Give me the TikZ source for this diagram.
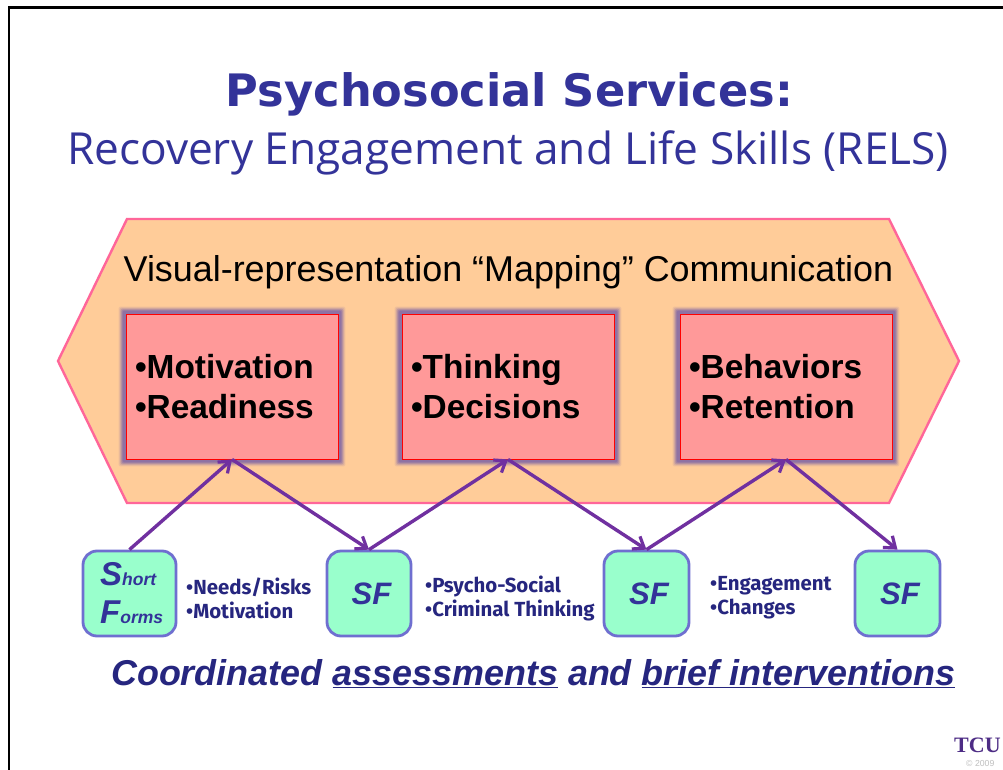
\documentclass[tikz,border=0pt]{standalone}
\usepackage{fontspec}
\setmainfont{Liberation Sans}
\newfontfamily\titlefont{DejaVu Sans}
\newfontfamily\subfont{Open Sans}
\newfontfamily\comicfont{Fira Sans}
\newfontfamily\logofont{Liberation Serif}
\definecolor{titleblue}{HTML}{333399}
\definecolor{darkblue}{HTML}{26267F}
\definecolor{hexfill}{HTML}{FFCC99}
\definecolor{hexline}{HTML}{FF6699}
\definecolor{boxfill}{HTML}{FF9999}
\definecolor{glow}{HTML}{6A55A8}
\definecolor{sffill}{HTML}{99FFCC}
\definecolor{sfline}{HTML}{6F6FD0}
\definecolor{arrowc}{HTML}{7030A0}
\definecolor{logoc}{HTML}{4D2C85}
\usetikzlibrary{arrows.meta}
\tikzset{
  x=1pt,y=-1pt,
  redbox/.style={draw=red,line width=0.8pt,fill=boxfill,minimum width=212pt,minimum height=145pt,
    inner sep=0pt,text=black,font=\fontsize{33.4}{40}\selectfont\bfseries,align=left},
  sfbox/.style={draw=sfline,line width=2.8pt,fill=sffill,rounded corners=14pt,inner sep=0pt,
    text=titleblue,font=\fontsize{31}{35}\selectfont\bfseries\itshape,align=left},
  sidelabel/.style={anchor=west,inner sep=0pt,text=darkblue,align=left,
    font=\comicfont\fontsize{20.4}{24}\selectfont\bfseries},
  link/.style={draw=arrowc,line width=3.4pt,-{Straight Barb[length=10pt,width=15pt,line width=3.2pt]}},
}
\newcommand{\glowaround}[1]{%
  \foreach \g/\o in {7/.1,6/.15,5/.25,4/.3,3/.35}{
    \fill[glow,opacity=\o,rounded corners=1.5pt] ([xshift=-\g pt,yshift=\g pt]#1.north west) rectangle ([xshift=\g pt,yshift=-\g pt]#1.south east);
  }}
\begin{document}
\begin{tikzpicture}
\useasboundingbox (0,0) rectangle (1003,770);
\fill[white] (0,0) rectangle (1003,770);
\draw[black,line width=2.6pt] (9,770) -- (9,7.5) -- (1003,7.5);

\node[inner sep=0pt,text=titleblue,font=\titlefont\fontsize{44.7}{50}\selectfont\bfseries] (title) at (509.5,94) {Psychosocial Services:};
\node[inner sep=0pt,text=titleblue,font=\subfont\fontsize{44.2}{50}\selectfont] (subtitle) at (508,153) {Recovery Engagement and Life Skills (RELS)};

\draw[hexline,line width=2.4pt,fill=hexfill] (127,219) -- (889,219) -- (959,361) -- (889,503) -- (127,503) -- (58,361) -- cycle;
\node[inner sep=0pt,text=black,font=\fontsize{35.9}{40}\selectfont] (maptext) at (508.5,272) {Visual-representation “Mapping” Communication};

\path (232,386.5) node[redbox,draw=none,fill=none] (ghostA) {};
\path (508,386.5) node[redbox,draw=none,fill=none] (ghostB) {};
\path (786,386.5) node[redbox,draw=none,fill=none] (ghostC) {};
\glowaround{ghostA}
\glowaround{ghostB}
\glowaround{ghostC}
\node[redbox,text width=194pt] (boxA) at (232,386.5) {•Motivation\\[-0.5pt]•Readiness};
\node[redbox,text width=194pt] (boxB) at (508,386.5) {•Thinking\\[-0.5pt]•Decisions};
\node[redbox,text width=194pt] (boxC) at (786,386.5) {•Behaviors\\[-0.5pt]•Retention};

\node[sfbox,minimum width=93pt,minimum height=85pt] (sfA) at (129.5,593.5) {};
\node[sfbox,minimum width=84pt,minimum height=85pt] (sfB) at (369,593.5) {\hspace*{5pt}SF};
\node[sfbox,minimum width=85pt,minimum height=85pt] (sfC) at (646.5,593.5) {\hspace*{5pt}SF};
\node[sfbox,minimum width=85pt,minimum height=85pt] (sfD) at (897.5,593.5) {\hspace*{5pt}SF};
\node[inner sep=0pt,anchor=west,text=titleblue,font=\fontsize{33}{33}\selectfont\bfseries\itshape] (sfS) at (100,574) {S{\fontsize{17.5}{19}\selectfont hort}};
\node[inner sep=0pt,anchor=west,text=titleblue,font=\fontsize{33}{33}\selectfont\bfseries\itshape] (sfF) at (100,612) {F{\fontsize{17.5}{19}\selectfont orms}};

\draw[link] (sfA.north) -- (boxA.south);
\draw[link] (boxA.south) -- (sfB.north);
\draw[link] (sfB.north) -- (boxB.south);
\draw[link] (boxB.south) -- (sfC.north);
\draw[link] (sfC.north) -- (boxC.south);
\draw[link] (boxC.south) -- (sfD.north);

\node[sidelabel] (labA) at (186,598) {•Needs/Risks\\•Motivation};
\node[sidelabel] (labB) at (425,598) {•Psycho-Social\\•Criminal Thinking};
\node[sidelabel] (labC) at (710,598) {•Engagement\\•Changes};

\node[inner sep=0pt,anchor=west,text=darkblue,font=\fontsize{35.9}{40}\selectfont\bfseries\itshape] (coord) at (111,674)
  {Coordinated \underline{assessments} and \underline{brief interventions}};

\node[inner sep=0pt,anchor=west,text=logoc,font=\logofont\fontsize{22}{22}\selectfont\bfseries] (logo) at (954,745) {TCU};
\node[inner sep=0pt,anchor=west,text=black!25,font=\fontsize{8.7}{9}\selectfont] (copy) at (966,763) {© 2009};
\end{tikzpicture}
\end{document}
